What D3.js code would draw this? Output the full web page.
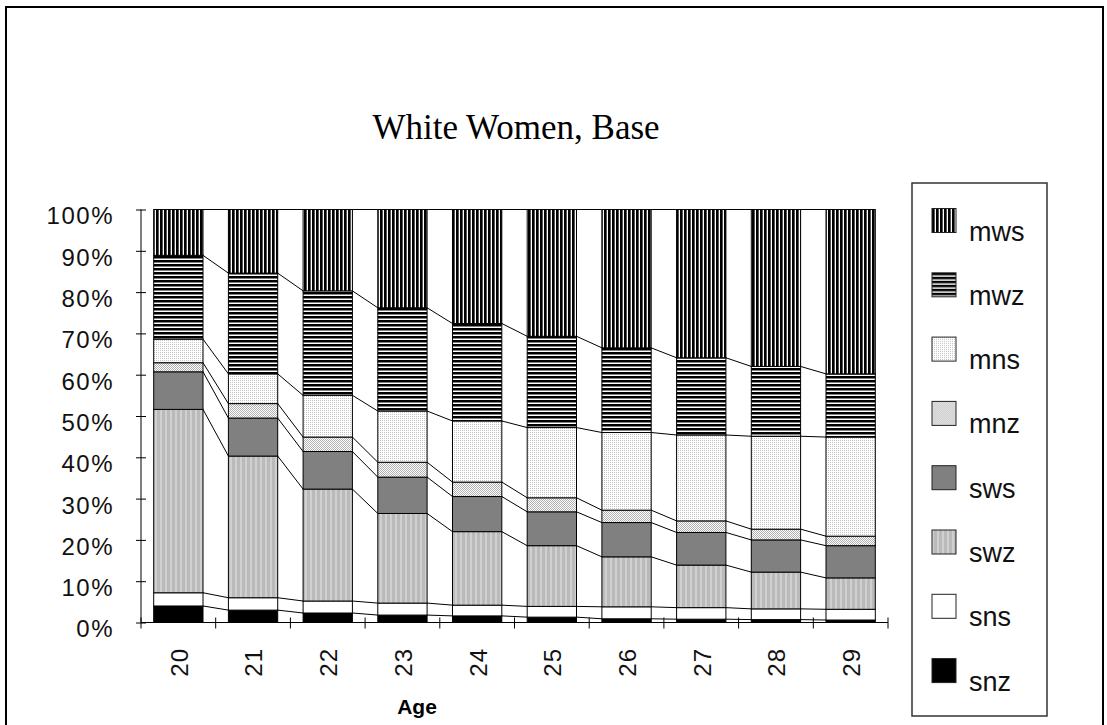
<!DOCTYPE html>
<html>
<head>
<meta charset="utf-8">
<script src="https://cdn.jsdelivr.net/npm/d3@7"></script>
<style>
  body { margin: 0; background: #fff; }
  svg { display: block; }
</style>
</head>
<body>
<div id="chart"></div>
<script>
// values, in percent
const ages = ["20", "21", "22", "23", "24", "25", "26", "27", "28", "29"];
const seriesNames = ["snz", "sns", "swz", "sws", "mnz", "mns", "mwz", "mws"];
const snz = [4.0, 3.0, 2.3, 1.8, 1.6, 1.3, 0.9, 0.8, 0.7, 0.6];
const sns = [3.2, 3.0, 2.9, 2.9, 2.6, 2.6, 2.9, 2.8, 2.6, 2.6];
const swz = [44.4, 34.3, 27.1, 21.7, 17.8, 14.7, 12.1, 10.3, 8.9, 7.6];
const sws = [9.1, 9.2, 9.1, 8.8, 8.5, 8.2, 8.3, 7.9, 7.8, 7.8];
const mnz = [2.2, 3.5, 3.5, 3.6, 3.5, 3.4, 3.0, 2.8, 2.6, 2.3];
const mns = [5.7, 7.2, 10.1, 12.4, 14.8, 17.0, 18.8, 20.8, 22.5, 24.0];
const mwz = [20.3, 24.4, 25.3, 25.0, 23.6, 22.1, 20.5, 18.7, 16.9, 15.3];
const mws = [11.1, 15.4, 19.7, 23.8, 27.6, 30.7, 33.5, 35.9, 38.0, 39.8];
const yTicks = [0, 10, 20, 30, 40, 50, 60, 70, 80, 90, 100];

const width = 1107, height = 725;
const plot = {left: 141, right: 888, top: 209.5, bottom: 622.5};

let rows = ages.map((a, i) => ({
    age: a, snz: snz[i], sns: sns[i], swz: swz[i], sws: sws[i],
    mnz: mnz[i], mns: mns[i], mwz: mwz[i], mws: mws[i]
}));

let svg = d3.select("#chart")
    .append("svg")
    .attr("width", width)
    .attr("height", height);

// fill patterns, one per series
let defs = svg.append("defs");

function pattern(id, w, h, bg) {
    let p = defs.append("pattern").attr("id", id).attr("patternUnits", "userSpaceOnUse")
        .attr("width", w).attr("height", h);
    p.append("rect").attr("width", w).attr("height", h).attr("fill", bg);
    return p;
}

let p = pattern("p-mws", 4, 4, "#fff");
p.append("rect").attr("width", 2).attr("height", 4).attr("fill", "#000");
p.append("rect").attr("x", 2).attr("width", 1).attr("height", 4).attr("fill", "#555");

p = pattern("p-mwz", 4, 4, "#fff");
p.append("rect").attr("width", 4).attr("height", 2).attr("fill", "#000");
p.append("rect").attr("y", 2).attr("width", 4).attr("height", 0.5).attr("fill", "#000");

p = pattern("p-mns", 2, 2, "#fff");
p.append("rect").attr("width", 1).attr("height", 1).attr("fill", "#c4c4c4");

p = pattern("p-mnz", 2, 2, "#fff");
p.append("rect").attr("width", 1).attr("height", 1).attr("fill", "#b0b0b0");
p.append("rect").attr("x", 1).attr("y", 1).attr("width", 1).attr("height", 1).attr("fill", "#b0b0b0");

p = pattern("p-swz", 5, 5, "#bababa");
p.append("rect").attr("width", 2).attr("height", 5).attr("fill", "#d0d0d0");

const fills = {
    mws: "url(#p-mws)", mwz: "url(#p-mwz)", mns: "url(#p-mns)", mnz: "url(#p-mnz)",
    sws: "#808080", swz: "url(#p-swz)", sns: "#ffffff", snz: "#000000"
};

// outer chart border
svg.append("rect")
    .attr("x", 6).attr("y", 7)
    .attr("width", 1097).attr("height", 740)
    .attr("fill", "none")
    .attr("stroke", "#000")
    .attr("stroke-width", 2);

svg.append("text")
    .attr("x", 516)
    .attr("y", 139)
    .attr("text-anchor", "middle")
    .style("font-family", "'Liberation Serif', 'Times New Roman', serif")
    .style("font-size", "35px")
    .text("White Women, Base");

let cat = d3.scaleBand()
    .domain(ages)
    .range([plot.left, plot.right]);

let x = d3.scaleBand()
    .domain(ages)
    .range([plot.left, plot.right])
    .paddingInner(0.34)
    .paddingOuter(0.17);

let y = d3.scaleLinear()
    .domain([0, 100])
    .range([plot.bottom, plot.top]);

let stacked = d3.stack().keys(seriesNames)(rows);

// series lines joining the segment tops of neighbouring bars
let lines = svg.append("g").attr("class", "series-lines");
stacked.forEach(function(layer) {
    for (let i = 0; i < layer.length - 1; i++) {
        lines.append("line")
            .attr("x1", x(ages[i]) + x.bandwidth())
            .attr("y1", y(layer[i][1]))
            .attr("x2", x(ages[i + 1]))
            .attr("y2", y(layer[i + 1][1]))
            .attr("stroke", "#000")
            .attr("stroke-width", 1);
    }
});

let bars = svg.append("g").attr("class", "bars");
stacked.forEach(function(layer) {
    bars.append("g")
        .selectAll("rect")
        .data(layer)
        .enter()
        .append("rect")
        .attr("x", d => x(d.data.age))
        .attr("y", d => y(d[1]))
        .attr("width", x.bandwidth())
        .attr("height", d => y(d[0]) - y(d[1]))
        .attr("fill", fills[layer.key])
        .attr("stroke", "#000")
        .attr("stroke-width", 1);
});

// y axis with crossing ticks
let yAxis = svg.append("g")
    .attr("transform", `translate(${plot.left},0)`)
    .call(d3.axisLeft(y).tickValues(yTicks).tickFormat(d => d + "%").tickSize(5).tickPadding(0));
yAxis.select(".domain").attr("stroke", "#000").attr("d", `M0,${plot.top}V${plot.bottom}`);
yAxis.selectAll(".tick line").attr("x1", 5).attr("x2", -5).attr("stroke", "#000");
yAxis.selectAll(".tick text")
    .attr("x", -27)
    .attr("dy", "0.6em")
    .attr("fill", "#111")
    .style("font-family", "'Liberation Sans', Arial, sans-serif")
    .style("font-size", "24px")
    .style("letter-spacing", "1.5px");

// x axis
let xAxis = svg.append("g");
xAxis.append("line")
    .attr("x1", plot.left).attr("x2", plot.right)
    .attr("y1", plot.bottom).attr("y2", plot.bottom)
    .attr("stroke", "#000");
let edges = ages.map(a => cat(a)).concat([plot.right]);
xAxis.selectAll(".xtick")
    .data(edges)
    .enter()
    .append("line")
    .attr("x1", d => d).attr("x2", d => d)
    .attr("y1", plot.bottom - 5).attr("y2", plot.bottom + 6)
    .attr("stroke", "#000");
xAxis.selectAll(".xlabel")
    .data(ages)
    .enter()
    .append("text")
    .attr("transform", d => `translate(${cat(d) + cat.bandwidth() / 2 + 1},648) rotate(-90)`)
    .attr("text-anchor", "end")
    .attr("dy", "0.35em")
    .attr("fill", "#111")
    .style("font-family", "'Liberation Sans', Arial, sans-serif")
    .style("font-size", "24px")
    .style("letter-spacing", "1px")
    .text(d => d);

svg.append("text")
    .attr("x", 417)
    .attr("y", 714)
    .attr("text-anchor", "middle")
    .style("font-family", "'Liberation Sans', Arial, sans-serif")
    .style("font-size", "21px")
    .style("font-weight", "bold")
    .text("Age");

// legend, top entry is the top series
let legend = svg.append("g");
legend.append("rect")
    .attr("x", 912).attr("y", 183)
    .attr("width", 135).attr("height", 533)
    .attr("fill", "#fff")
    .attr("stroke", "#333")
    .attr("stroke-width", 1.5);
let legendNames = seriesNames.slice().reverse();
let item = legend.selectAll(".item")
    .data(legendNames)
    .enter()
    .append("g")
    .attr("transform", (d, i) => `translate(932,${208.5 + i * 64.3})`);
item.append("rect")
    .attr("width", 24).attr("height", 24)
    .attr("fill", d => fills[d])
    .attr("stroke", "#222");
item.append("text")
    .attr("x", 37)
    .attr("y", 32)
    .attr("fill", "#111")
    .style("font-family", "'Liberation Sans', Arial, sans-serif")
    .style("font-size", "27px")
    .text(d => d);
</script>
</body>
</html>
